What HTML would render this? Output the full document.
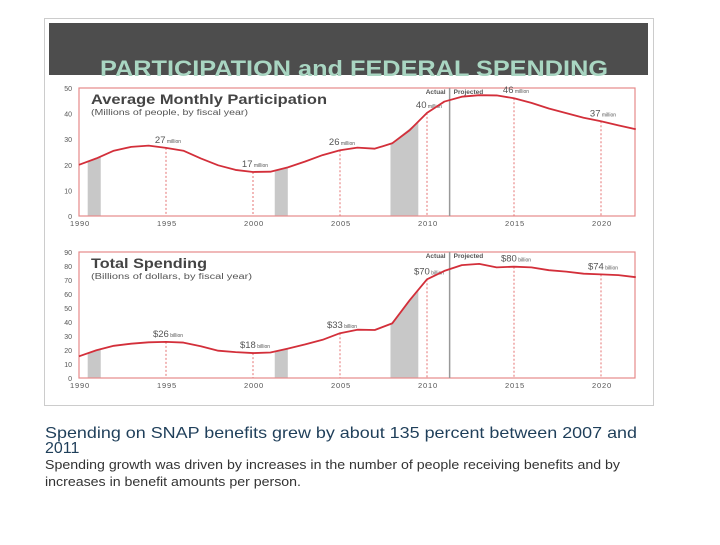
<!DOCTYPE html>
<html><head><meta charset="utf-8"><style>
body{margin:0;background:#fff;width:720px;height:540px;overflow:hidden;font-family:"Liberation Sans",sans-serif}
svg text{font-family:"Liberation Sans",sans-serif}
</style></head><body>
<svg id="s" width="720" height="540">
<rect x="44.5" y="18.5" width="609" height="387" fill="#fff" stroke="#ccc"/>
<rect x="49" y="23" width="599" height="52" fill="#4d4d4d"/>
<text x="100" y="76" textLength="508" lengthAdjust="spacingAndGlyphs" font-size="22" font-weight="bold" fill="#a9d6c2">PARTICIPATION and FEDERAL SPENDING</text>
<g id="c1"></g><g id="c2"></g>
<text x="45" y="438" textLength="592" lengthAdjust="spacingAndGlyphs" font-size="16" fill="#1f3f5a">Spending on SNAP benefits grew by about 135 percent between 2007 and</text>
<text x="45" y="453" font-size="16" fill="#1f3f5a">2011</text>
<text x="45" y="469" textLength="575" lengthAdjust="spacingAndGlyphs" font-size="13" fill="#333">Spending growth was driven by increases in the number of people receiving benefits and by</text>
<text x="45" y="486" textLength="256" lengthAdjust="spacingAndGlyphs" font-size="13" fill="#333">increases in benefit amounts per person.</text>
</svg>
<script>
const years=[1990,1991,1992,1993,1994,1995,1996,1997,1998,1999,2000,2001,2002,2003,2004,2005,2006,2007,2008,2009,2010,2011,2012,2013,2014,2015,2016,2017,2018,2019,2020,2021,2022];
const participation=[20,22.5,25.5,27,27.5,26.6,25.5,22.5,19.8,18,17.2,17.3,19,21.3,23.8,25.7,26.7,26.3,28.4,33.5,40.3,44.7,46.6,47.2,47.1,46,44.2,42,40.2,38.4,37,35.4,33.9];
const spending=[15.5,19.8,23,24.5,25.5,25.8,25.3,22.7,19.5,18.5,17.8,18.2,21,24,27.3,32,34.5,34.3,39,55.5,70.5,76.5,80.6,81.5,79,79.5,79,77,76,74.5,74,73.5,72];
const recessions=[[1990.5,1991.25],[2001.25,2002],[2007.9,2009.5]];
const xTicks=[1990,1995,2000,2005,2010,2015,2020];
const partTicks=[0,10,20,30,40,50];
const spendTicks=[0,10,20,30,40,50,60,70,80,90];
const partNotes=[[1995,"27","million"],[2000,"17","million"],[2005,"26","million"],[2010,"40","million"],[2015,"46","million"],[2020,"37","million"]];
const spendNotes=[[1995,"$26","billion"],[2000,"$18","billion"],[2005,"$33","billion"],[2010,"$70","billion"],[2015,"$80","billion"],[2020,"$74","billion"]];
const splitYear=2011.3;
const NS="http://www.w3.org/2000/svg";
function mk(p,t,a){const e=document.createElementNS(NS,t);for(const k in a)e.setAttribute(k,a[k]);p.appendChild(e);return e;}
function x(y){return 79+(y-1990)*17.4;}
function interp(vals,yr){const i=Math.floor(yr-1990),f=yr-1990-i;return vals[i]+(vals[i+1]-vals[i])*f;}
function chart(g,vals,ticks,ymax,top,bot,title,sub,notes,key,tl,sl){
  const y=v=>bot-(v/ymax)*(bot-top);
  recessions.forEach(r=>{
    const v0=interp(vals,r[0]),v1=interp(vals,r[1]);
    const el=mk(g,'polygon',{points:`${x(r[0])},${bot} ${x(r[0])},${y(v0)} ${x(r[1])},${y(v1)} ${x(r[1])},${bot}`,fill:'#c8c8c8'});
    
    
  });
  const box=mk(g,'rect',{x:79,y:top,width:556,height:bot-top,fill:'none',stroke:'#e58a8a','stroke-width':1.2});
  
  
  ticks.forEach(t=>{const e=mk(g,'text',{x:72,y:y(t)+3,'text-anchor':'end','font-size':7,fill:'#555'});e.textContent=t;
    
    });
  xTicks.forEach(t=>{const e=mk(g,'text',{x:x(t)+1,y:bot+10,'text-anchor':'middle','font-size':7.5,fill:'#555','letter-spacing':0.8});e.textContent=t;
    
    });
  const sp=mk(g,'line',{x1:x(splitYear),x2:x(splitYear),y1:top,y2:bot,stroke:'#999','stroke-width':1.5});
  
  
  const ta=mk(g,'text',{x:x(splitYear)-4,y:top+6,'text-anchor':'end','font-size':6.5,'font-weight':'bold',fill:'#555'});ta.textContent='Actual';
  
  
  const tp=mk(g,'text',{x:x(splitYear)+4,y:top+6,'font-size':6.5,'font-weight':'bold',fill:'#555'});tp.textContent='Projected';
  
  
  notes.forEach(n=>{const v=vals[years.indexOf(n[0])];
    const l=mk(g,'line',{x1:x(n[0]),x2:x(n[0]),y1:y(v),y2:bot,stroke:'#e57373','stroke-dasharray':'2,2'});
    
    
    const t=mk(g,'text',{x:x(n[0])+2,y:y(v)-5,'font-size':9.5,fill:'#555','text-anchor':'middle'});
    t.innerHTML=n[1]+'<tspan font-size="5"> '+n[2]+'</tspan>';
    
    });
  const line=mk(g,'polyline',{points:years.map((yr,i)=>x(yr)+','+y(vals[i])).join(' '),fill:'none',stroke:'#d32f3a','stroke-width':1.8,'stroke-linejoin':'round'});
  
  
  const tt=mk(g,'text',{x:91,y:top+16,'font-size':14,'font-weight':'bold',fill:'#444',textLength:tl,lengthAdjust:'spacingAndGlyphs'});tt.textContent=title;
  
  
  const st=mk(g,'text',{x:91,y:top+27,'font-size':8,fill:'#555',textLength:sl,lengthAdjust:'spacingAndGlyphs'});st.textContent=sub;
  
  
}
chart(document.getElementById('c1'),participation,partTicks,50,88,216,'Average Monthly Participation','(Millions of people, by fiscal year)',partNotes,'participation',236,157);
chart(document.getElementById('c2'),spending,spendTicks,90,252,378,'Total Spending','(Billions of dollars, by fiscal year)',spendNotes,'spending',116,161);
</script>
</body></html>
